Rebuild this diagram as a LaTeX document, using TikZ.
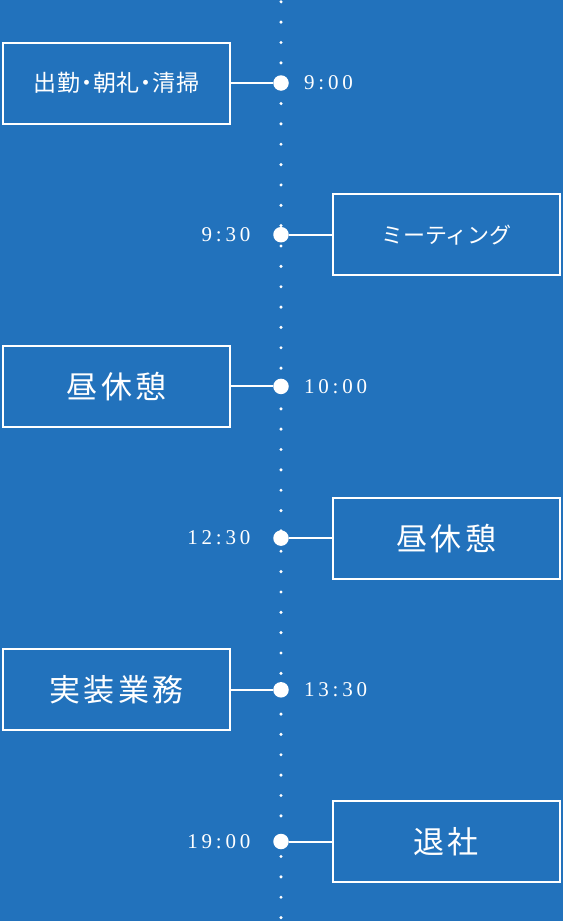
\documentclass[tikz,border=0pt]{standalone}
\usepackage{fontspec}
\setmainfont{Liberation Serif}
\newfontfamily\jpfont{Noto Sans CJK JP}
\newfontfamily\jpdot[RawFeature=+palt, LetterSpace=3]{Noto Sans CJK JP}
\newfontfamily\jpwide[LetterSpace=10]{Noto Sans CJK JP}
\newfontfamily\timefont[LetterSpace=18]{Liberation Serif}
\usetikzlibrary{positioning}
\definecolor{bgblue}{RGB}{34, 114, 188}
\tikzset{box/.style = {draw = white, line width = 2pt, minimum width = 227pt,
                       minimum height = 81pt, inner sep = 0, text = white}}
\tikzset{tick/.style = {fill = white, circle, inner sep = 0, minimum size = 15.5pt}}
\tikzset{time/.style = {text = white, inner sep = 0,
                        font = \timefont\fontsize{21}{23}\selectfont}}
\tikzset{conn/.style = {white, line width = 2pt}}
\tikzset{small/.style = {font = \jpfont\fontsize{22}{26}\selectfont}}
\tikzset{dots/.style = {font = \jpdot\fontsize{23}{26}\selectfont}}
\tikzset{large/.style = {font = \jpwide\fontsize{31}{34}\selectfont}}

\begin{document}
\begin{tikzpicture}[x = 1pt, y = -1pt]
        \fill [bgblue] (0, 0) rectangle (563, 921);
        \foreach \k in {0, ..., 45}
          \fill [white] (281, 1.8 + 20.35*\k) circle (1.7pt);

        \node [tick] (t1) at (281, 83) {};
        \node [tick] (t2) at (281, 234.7) {};
        \node [tick] (t3) at (281, 386.4) {};
        \node [tick] (t4) at (281, 538.1) {};
        \node [tick] (t5) at (281, 689.8) {};
        \node [tick] (t6) at (281, 841.5) {};

        \node [box, dots, left = 42pt of t1] (work) {出勤・朝礼・清掃};
        \node [box, small, right = 43pt of t2] (meeting) {ミーティング};
        \node [box, large, left = 42pt of t3] (break1) {昼休憩};
        \node [box, large, right = 43pt of t4] (break2) {昼休憩};
        \node [box, large, left = 42pt of t5] (dev) {実装業務};
        \node [box, large, right = 43pt of t6] (leave) {退社};

        \node [time, right = 15pt of t1] (time1) {9:00};
        \node [time, left = 22.5pt of t2] (time2) {9:30};
        \node [time, right = 15pt of t3] (time3) {10:00};
        \node [time, left = 22.5pt of t4] (time4) {12:30};
        \node [time, right = 15pt of t5] (time5) {13:30};
        \node [time, left = 22.5pt of t6] (time6) {19:00};

        \draw [conn] (work) -- (t1);
        \draw [conn] (meeting) -- (t2);
        \draw [conn] (break1) -- (t3);
        \draw [conn] (break2) -- (t4);
        \draw [conn] (dev) -- (t5);
        \draw [conn] (leave) -- (t6);
      \end{tikzpicture}
\end{document}
